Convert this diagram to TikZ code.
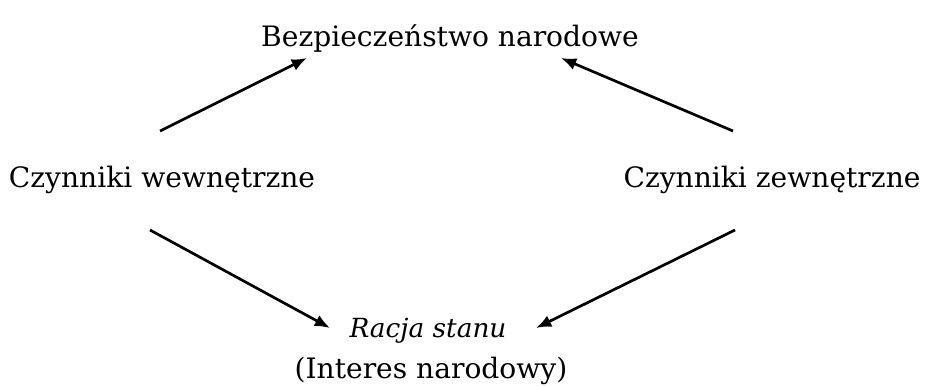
\documentclass[tikz,border=0pt]{standalone}
\usepackage{fontspec}
\setmainfont{DejaVu Serif}
\usetikzlibrary{arrows.meta}
\begin{document}
\begin{tikzpicture}[x=0.03cm,y=-0.03cm,
  lbl/.style={inner sep=0pt,anchor=base,font=\fontsize{24}{28}\selectfont},
  arr/.style={line width=2.3pt,-{Latex[length=13pt,width=10.5pt]}}]
\useasboundingbox (0,0) rectangle (926,385);
\node[lbl] (bn) at (450,46) {Bezpieczeństwo narodowe};
\node[lbl] (cw) at (162,187) {Czynniki wewnętrzne};
\node[lbl] (cz) at (772,187) {Czynniki zewnętrzne};
\node[lbl,font=\fontsize{22.5}{28}\selectfont\itshape] (rs) at (428,337) {Racja stanu};
\node[lbl] (in) at (431,378) {(Interes narodowy)};
\coordinate (a1s) at (160,131); \coordinate (a1e) at (307,58);
\coordinate (a2s) at (733,131); \coordinate (a2e) at (561,58);
\coordinate (a3s) at (150,230); \coordinate (a3e) at (330,328);
\coordinate (a4s) at (735,230); \coordinate (a4e) at (536,328);
\draw[arr] (a1s) -- (a1e);
\draw[arr] (a2s) -- (a2e);
\draw[arr] (a3s) -- (a3e);
\draw[arr] (a4s) -- (a4e);
\end{tikzpicture}
\end{document}
